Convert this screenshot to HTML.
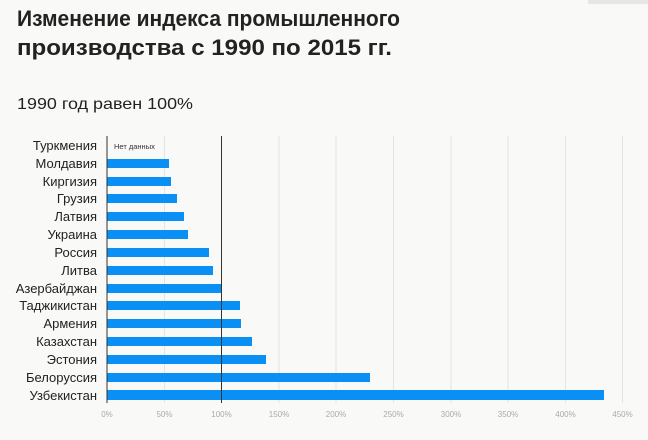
<!DOCTYPE html>
<html><head><meta charset="utf-8"><style>
body{margin:0;background:#f9f9f7;width:648px;height:435px;overflow:hidden;font-family:"Liberation Sans","DejaVu Sans",sans-serif}
</style></head><body>
<svg width="648" height="435" xmlns="http://www.w3.org/2000/svg" font-family="Liberation Sans, DejaVu Sans, sans-serif">
<rect width="648" height="435" fill="#f9f9f7"/>
<rect x="588" y="0" width="60" height="4" fill="#e6e6e6"/>
<text x="17" y="26" font-size="22" font-weight="bold" fill="#222" textLength="383" lengthAdjust="spacingAndGlyphs">Изменение индекса промышленного</text>
<text x="17" y="55" font-size="22" font-weight="bold" fill="#222" textLength="375" lengthAdjust="spacingAndGlyphs">производства с 1990 по 2015 гг.</text>
<text x="17" y="109" font-size="16" fill="#222" textLength="176" lengthAdjust="spacingAndGlyphs">1990 год равен 100%</text>
<g stroke="#e4e4e2" stroke-width="1">
<line x1="164.5" y1="136" x2="164.5" y2="403"/>
<line x1="279" y1="136" x2="279" y2="403"/>
<line x1="336" y1="136" x2="336" y2="403"/>
<line x1="393.5" y1="136" x2="393.5" y2="403"/>
<line x1="451" y1="136" x2="451" y2="403"/>
<line x1="508" y1="136" x2="508" y2="403"/>
<line x1="565.5" y1="136" x2="565.5" y2="403"/>
<line x1="622.5" y1="136" x2="622.5" y2="403"/>
</g>
<g fill="#0a8ff5">
<rect x="107" y="159" width="62" height="9"/>
<rect x="107" y="177" width="64" height="9"/>
<rect x="107" y="194" width="70" height="9"/>
<rect x="107" y="212" width="77" height="9"/>
<rect x="107" y="230" width="81" height="9"/>
<rect x="107" y="248" width="102" height="9"/>
<rect x="107" y="266" width="106" height="9"/>
<rect x="107" y="284" width="114" height="9"/>
<rect x="107" y="301" width="133" height="9"/>
<rect x="107" y="319" width="134" height="9"/>
<rect x="107" y="337" width="145" height="9"/>
<rect x="107" y="355" width="159" height="9"/>
<rect x="107" y="373" width="263" height="9"/>
<rect x="107" y="390" width="497" height="10"/>
</g>
<line x1="107" y1="136" x2="107" y2="403" stroke="#333" stroke-width="1"/>
<line x1="221.5" y1="136" x2="221.5" y2="403" stroke="#333" stroke-width="1"/>
<text x="114" y="149" font-size="7.5" fill="#333">Нет данных</text>
<g font-size="13" fill="#222" text-anchor="end">
<text x="97" y="150">Туркмения</text>
<text x="97" y="168">Молдавия</text>
<text x="97" y="186">Киргизия</text>
<text x="97" y="203">Грузия</text>
<text x="97" y="221">Латвия</text>
<text x="97" y="239">Украина</text>
<text x="97" y="257">Россия</text>
<text x="97" y="275">Литва</text>
<text x="97" y="293">Азербайджан</text>
<text x="97" y="310">Таджикистан</text>
<text x="97" y="328">Армения</text>
<text x="97" y="346">Казахстан</text>
<text x="97" y="364">Эстония</text>
<text x="97" y="382">Белоруссия</text>
<text x="97" y="400">Узбекистан</text>
</g>
<g font-size="8" fill="#aaa" text-anchor="middle">
<text x="107" y="417">0%</text>
<text x="164.5" y="417">50%</text>
<text x="221.5" y="417">100%</text>
<text x="279" y="417">150%</text>
<text x="336" y="417">200%</text>
<text x="393.5" y="417">250%</text>
<text x="451" y="417">300%</text>
<text x="508" y="417">350%</text>
<text x="565.5" y="417">400%</text>
<text x="622.5" y="417">450%</text>
</g>
</svg>
</body></html>
